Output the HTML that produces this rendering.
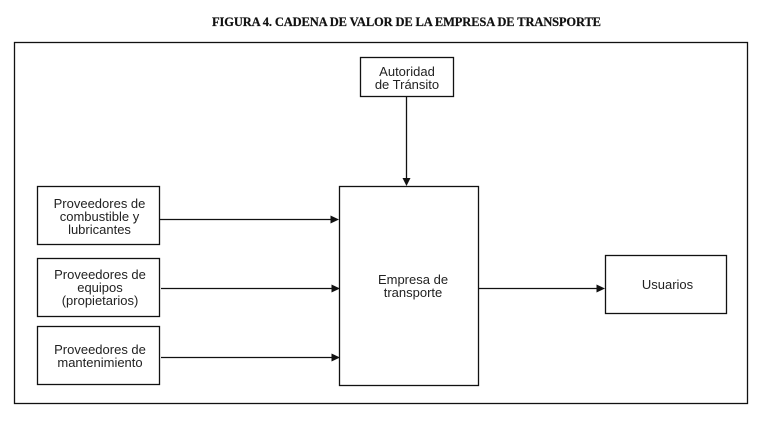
<!DOCTYPE html>
<html lang="es">
<head>
<meta charset="utf-8">
<title>Figura 4</title>
<style>
html,body{margin:0;padding:0;background:#fff;width:772px;height:422px;overflow:hidden}
svg{display:block}
text{font-family:"Liberation Sans",Arial,sans-serif;font-size:13px;fill:#222;text-anchor:middle}
text.t{font-family:"Liberation Serif","Times New Roman",serif;font-size:12.5px;font-weight:bold;fill:#111;stroke:#111;stroke-width:.2;text-anchor:start}
rect{fill:none;stroke:#111;stroke-width:1.3}
line{stroke:#111;stroke-width:1.3}
polygon{fill:#111}
</style>
</head>
<body>
<svg width="772" height="422" viewBox="0 0 772 422" xmlns="http://www.w3.org/2000/svg">
<text class="t" x="212" y="26" textLength="389" lengthAdjust="spacing">FIGURA 4. CADENA DE VALOR DE LA EMPRESA DE TRANSPORTE</text>

<rect x="14.5" y="42.5" width="733" height="361"/>
<rect x="360.5" y="57.5" width="93" height="39"/>
<rect x="37.5" y="186.5" width="122" height="58"/>
<rect x="37.5" y="258.5" width="122" height="58"/>
<rect x="37.5" y="326.500" width="122" height="58"/>
<rect x="339.5" y="186.5" width="139" height="199"/>
<rect x="605.5" y="255.5" width="121" height="58"/>

<line x1="406.5" y1="97" x2="406.5" y2="180"/>
<polygon points="402.5,178 410.5,178 406.5,186"/>
<line x1="160" y1="219.5" x2="333" y2="219.5"/>
<polygon points="330.5,215.500 330.5,223.500 339,219.5"/>
<line x1="161" y1="288.5" x2="334" y2="288.5"/>
<polygon points="331.5,284.500 331.5,292.500 340,288.5"/>
<line x1="161" y1="357.5" x2="334" y2="357.5"/>
<polygon points="331.5,353.500 331.5,361.500 340,357.5"/>
<line x1="479" y1="288.5" x2="599" y2="288.5"/>
<polygon points="596.5,284.500 596.5,292.500 605,288.5"/>

<text x="407" y="76">Autoridad</text>
<text x="407" y="89">de Tránsito</text>
<text x="99.500" y="208">Proveedores de</text>
<text x="99.500" y="221">combustible y</text>
<text x="99.500" y="234">lubricantes</text>
<text x="100" y="279">Proveedores de</text>
<text x="100" y="292">equipos</text>
<text x="100" y="305">(propietarios)</text>
<text x="100" y="354">Proveedores de</text>
<text x="100" y="367">mantenimiento</text>
<text x="413" y="284">Empresa de</text>
<text x="413" y="297">transporte</text>
<text x="667.500" y="289">Usuarios</text>
</svg>
</body>
</html>
